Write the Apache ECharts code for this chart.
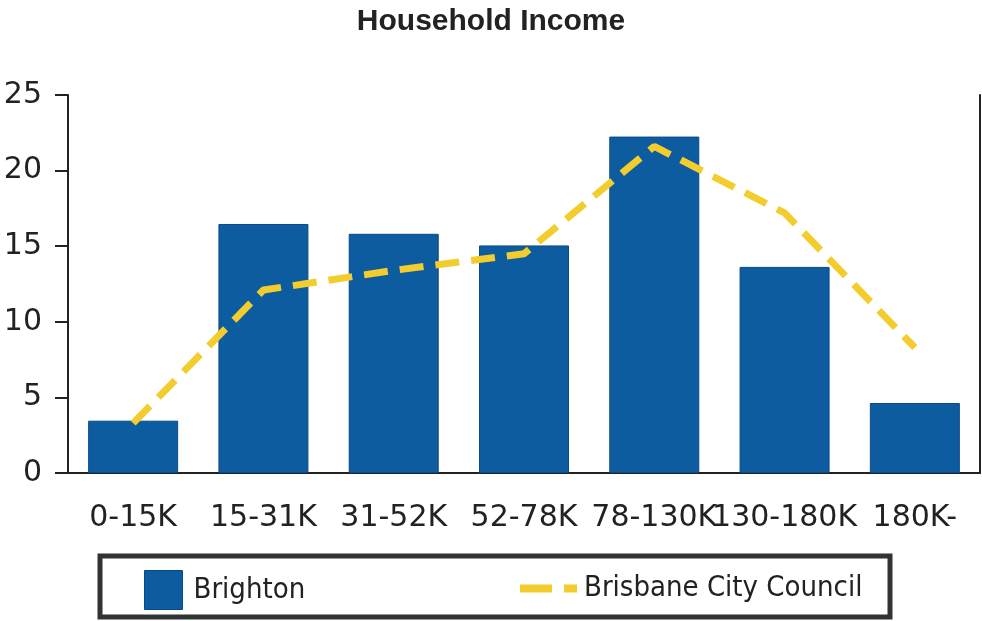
<!DOCTYPE html>
<html>
<head>
<meta charset="utf-8">
<script src="https://cdn.jsdelivr.net/npm/echarts@6/dist/echarts.min.js"></script>
<style>
html,body{margin:0;padding:0;background:#fff;}
#chart{width:982px;height:621px;}
</style>
</head>
<body>
<div id="chart"></div>
<script>
var categories = ['0-15K', '15-31K', '31-52K', '52-78K', '78-130K', '130-180K', '180K-'];
var brighton = [3.46, 16.47, 15.82, 15.05, 22.25, 13.63, 4.63];
var brisbane = [3.3, 12.1, 13.4, 14.5, 21.6, 17.2, 8.3];
var yTicks = { min: 0, max: 25, interval: 5 };

var chart = echarts.init(document.getElementById('chart'));
chart.setOption({
  animation: false,
  backgroundColor: '#ffffff',
  title: {
    text: 'Household Income',
    left: 'center',
    top: 2,
    textStyle: { fontFamily: 'Liberation Sans', fontSize: 30, fontWeight: 'bold', color: '#222' }
  },
  grid: { left: 68, right: 2, top: 95, bottom: 148 },
  legend: [
    {
      data: [{ name: 'Brighton', icon: 'rect' }],
      left: 139, top: 565,
      itemWidth: 38, itemHeight: 39,
      itemGap: 0,
      itemStyle: { borderColor: '#0a4a85', borderWidth: 1 },
      textStyle: { fontFamily: 'DejaVu Sans Condensed', fontSize: 29, color: '#222', padding: [0, 0, 0, 6] }
    },
    {
      data: [{ name: 'Brisbane City Council', icon: 'path://M0,0h32v8h-32z M44,0h13v8h-13z' }],
      left: 515, top: 569,
      itemWidth: 57, itemHeight: 8,
      itemStyle: { color: '#f3cd2d' },
      textStyle: { fontFamily: 'DejaVu Sans Condensed', fontSize: 29, color: '#222', padding: [0, 0, 0, 2] }
    }
  ],
  graphic: [
    {
      type: 'rect',
      shape: { x: 100, y: 556, width: 790, height: 61 },
      style: { fill: 'none', stroke: '#333', lineWidth: 5 },
      z: 0
    }
  ],
  xAxis: {
    type: 'category',
    data: categories,
    axisLine: { lineStyle: { color: '#222', width: 2 } },
    axisTick: { alignWithLabel: true, length: 12, lineStyle: { color: '#222', width: 2 } },
    axisLabel: { interval: 0, margin: 30, fontFamily: 'DejaVu Sans', fontSize: 30, color: '#222' }
  },
  yAxis: [
    {
      type: 'value',
      min: yTicks.min, max: yTicks.max, interval: yTicks.interval,
      splitLine: { show: false },
      axisLine: { show: true, lineStyle: { color: '#222', width: 2 } },
      axisTick: { show: true, length: 13, lineStyle: { color: '#222', width: 2 } },
      axisLabel: { margin: 26, fontFamily: 'DejaVu Sans', fontSize: 30, color: '#222' }
    },
    {
      type: 'value',
      position: 'right',
      min: yTicks.min, max: yTicks.max, interval: yTicks.interval,
      splitLine: { show: false },
      axisLine: { show: true, lineStyle: { color: '#222', width: 2 } },
      axisTick: { show: false },
      axisLabel: { show: false }
    }
  ],
  series: [
    {
      name: 'Brighton',
      type: 'bar',
      data: brighton,
      barWidth: 90,
      itemStyle: { color: '#0d5ca0', borderColor: '#0a4a85', borderWidth: 1 }
    },
    {
      name: 'Brisbane City Council',
      type: 'line',
      data: brisbane,
      symbol: 'none',
      lineStyle: { color: '#f3cd2d', width: 7, type: [24, 12] },
      itemStyle: { color: '#f3cd2d' },
      z: 5
    }
  ]
});
</script>
</body>
</html>
